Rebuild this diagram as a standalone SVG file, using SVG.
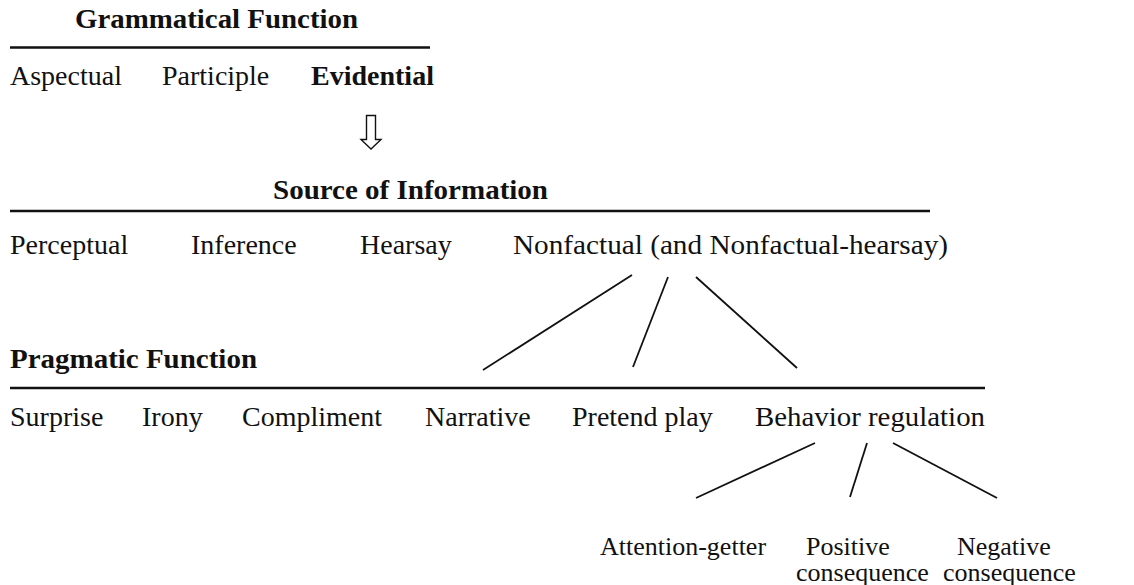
<svg xmlns="http://www.w3.org/2000/svg" width="1134" height="585" viewBox="0 0 1134 585">
<defs>
<style>
text{font-family:"Liberation Serif","Times New Roman",serif;font-size:28px;fill:#111}
.h{font-weight:bold;font-size:27px}
.s{font-size:26px}
.rule{stroke:#111;stroke-width:2.6}
.con{stroke:#111;stroke-width:1.8;fill:none}
</style>
</defs>
<rect width="1134" height="585" fill="#fff"/>
<g id="grammatical">
<text class="h" x="75" y="28" textLength="283" lengthAdjust="spacingAndGlyphs">Grammatical Function</text>
<line class="rule" x1="10" y1="47.5" x2="430" y2="47.5"/>
<text x="10" y="85">Aspectual</text>
<text x="162" y="85">Participle</text>
<text x="311" y="85" font-weight="bold">Evidential</text>
</g>
<g id="arrow">
<path d="M366.5,115.5 H375.5 V139.5 H381 L371,149 L361,139.5 H366.5 Z" fill="#fff" stroke="#111" stroke-width="1.4" stroke-linejoin="miter"/>
</g>
<g id="source">
<text class="h" x="273" y="199" textLength="275" lengthAdjust="spacingAndGlyphs">Source of Information</text>
<line class="rule" x1="10" y1="211" x2="930" y2="211"/>
<text x="10" y="254">Perceptual</text>
<text x="191" y="254">Inference</text>
<text x="360" y="254">Hearsay</text>
<text x="513" y="254" textLength="435" lengthAdjust="spacingAndGlyphs">Nonfactual (and Nonfactual-hearsay)</text>
</g>
<g id="pragmatic">
<text class="h" x="10" y="368" textLength="247" lengthAdjust="spacingAndGlyphs">Pragmatic Function</text>
<line class="rule" x1="10" y1="388" x2="985" y2="388"/>
<text x="10" y="426">Surprise</text>
<text x="142" y="426">Irony</text>
<text x="242" y="426">Compliment</text>
<text x="425" y="426">Narrative</text>
<text x="572" y="426">Pretend play</text>
<text x="755" y="426" textLength="230" lengthAdjust="spacingAndGlyphs">Behavior regulation</text>
</g>
<g id="behavior">
<text class="s" x="600" y="555">Attention-getter</text>
<text class="s" x="806" y="555">Positive</text>
<text class="s" x="957" y="555">Negative</text>
<text class="s" x="796" y="581">consequence</text>
<text class="s" x="943" y="581">consequence</text>
</g>
<g id="connectors">
<line class="con" x1="632" y1="275" x2="483" y2="370"/>
<line class="con" x1="668" y1="277" x2="633" y2="367"/>
<line class="con" x1="696" y1="277" x2="797" y2="368"/>
<line class="con" x1="815" y1="443" x2="696" y2="498"/>
<line class="con" x1="867" y1="443" x2="850" y2="497"/>
<line class="con" x1="893" y1="443" x2="997" y2="498"/>
</g>
</svg>
